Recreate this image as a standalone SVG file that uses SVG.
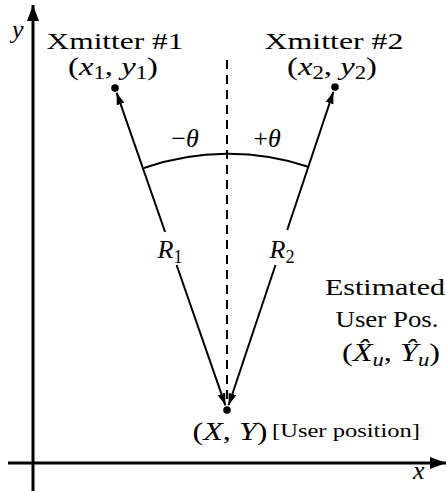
<svg xmlns="http://www.w3.org/2000/svg" width="446" height="491" viewBox="0 0 446 491">
<style>
text{font-family:"Liberation Serif","DejaVu Serif","Times New Roman",serif;fill:#000}
.i{font-style:italic}
.s{font-size:70%}
.ln{stroke:#000;stroke-width:2;fill:none}
.ax{stroke:#000;stroke-width:3;fill:none}
</style>
<defs>
<marker id="ah" viewBox="0 0 12 8" refX="12" refY="4" markerWidth="12" markerHeight="8" markerUnits="userSpaceOnUse" orient="auto-start-reverse">
<path d="M0,0 L12,4 L0,8 Z" fill="#000"/>
</marker>
<marker id="axh" viewBox="0 0 16 12" refX="16" refY="6" markerWidth="16" markerHeight="12" markerUnits="userSpaceOnUse" orient="auto">
<path d="M0,0 L16,6 L0,12 Z" fill="#000"/>
</marker>
</defs>
<g id="axes">
<line class="ax" x1="33" y1="491" x2="33" y2="5" marker-end="url(#axh)"/>
<line class="ax" x1="8" y1="463" x2="446" y2="463" marker-end="url(#axh)"/>
<text class="i" x="12" y="38" font-size="26">y</text>
<text class="i" x="413" y="479" font-size="26">x</text>
</g>
<g id="connectors">
<line class="ln" x1="227" y1="60" x2="227" y2="405" stroke-dasharray="9 6"/>
<line class="ln" x1="116.6" y1="92.7" x2="165.1" y2="232" marker-start="url(#ah)"/>
<line class="ln" x1="176.6" y1="265" x2="225.4" y2="405.3" marker-end="url(#ah)"/>
<line class="ln" x1="333.4" y1="91.7" x2="287.2" y2="230" marker-start="url(#ah)"/>
<line class="ln" x1="275.5" y1="265" x2="228.6" y2="405.3" marker-end="url(#ah)"/>
<path class="ln" d="M144,168 A256,256 0 0 1 309,167" stroke-width="2.5"/>
</g>
<g id="xmitter1">
<circle cx="115" cy="88" r="3.8" fill="#000"/>
<text x="115" y="49" font-size="24" text-anchor="middle" textLength="137" lengthAdjust="spacingAndGlyphs">Xmitter #1</text>
<text x="113" y="75" font-size="26" text-anchor="middle" textLength="90" lengthAdjust="spacingAndGlyphs">(<tspan class="i">x</tspan><tspan class="s" dy="4">1</tspan><tspan dy="-4">, </tspan><tspan class="i">y</tspan><tspan class="s" dy="4">1</tspan><tspan dy="-4">)</tspan></text>
</g>
<g id="xmitter2">
<circle cx="335" cy="87" r="3.8" fill="#000"/>
<text x="334" y="49" font-size="24" text-anchor="middle" textLength="139" lengthAdjust="spacingAndGlyphs">Xmitter #2</text>
<text x="332" y="75" font-size="26" text-anchor="middle" textLength="90" lengthAdjust="spacingAndGlyphs">(<tspan class="i">x</tspan><tspan class="s" dy="4">2</tspan><tspan dy="-4">, </tspan><tspan class="i">y</tspan><tspan class="s" dy="4">2</tspan><tspan dy="-4">)</tspan></text>
</g>
<g id="angles">
<text x="185" y="147" font-size="26" text-anchor="middle">−<tspan class="i">θ</tspan></text>
<text x="267" y="147" font-size="26" text-anchor="middle">+<tspan class="i">θ</tspan></text>
</g>
<g id="ranges">
<text x="170" y="258" font-size="26" text-anchor="middle"><tspan class="i">R</tspan><tspan class="s" dy="5">1</tspan></text>
<text x="282" y="258" font-size="26" text-anchor="middle"><tspan class="i">R</tspan><tspan class="s" dy="5">2</tspan></text>
</g>
<g id="user">
<circle cx="227" cy="410" r="3.8" fill="#000"/>
<text x="230" y="440" font-size="26" text-anchor="middle" textLength="75" lengthAdjust="spacingAndGlyphs">(<tspan class="i">X</tspan>, <tspan class="i">Y</tspan>)</text>
<text x="272" y="437" font-size="18" textLength="148" lengthAdjust="spacingAndGlyphs">[User position]</text>
</g>
<g id="estimate">
<text x="385" y="295" font-size="24" text-anchor="middle" textLength="120" lengthAdjust="spacingAndGlyphs">Estimated</text>
<text x="387" y="327" font-size="24" text-anchor="middle" textLength="103" lengthAdjust="spacingAndGlyphs">User Pos.</text>
<text x="391" y="361" font-size="26" text-anchor="middle" textLength="98" lengthAdjust="spacingAndGlyphs">(<tspan class="i">X̂</tspan><tspan class="s i" dy="5">u</tspan><tspan dy="-5">, </tspan><tspan class="i">Ŷ</tspan><tspan class="s i" dy="5">u</tspan><tspan dy="-5">)</tspan></text>
</g>
</svg>
